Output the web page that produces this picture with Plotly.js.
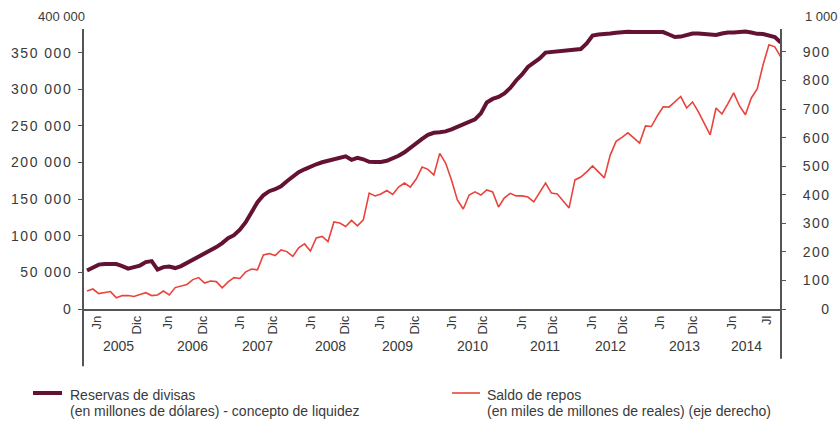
<!DOCTYPE html>
<html>
<head>
<meta charset="utf-8">
<script src="https://cdn.plot.ly/plotly-3.0.1.min.js"></script>
<style>
  body { margin: 0; background: #fff; }
  #grafica { width: 840px; height: 424px; }
  .ytick text, .y2tick text { letter-spacing: 1.5px; }
</style>
</head>
<body>
<div id="grafica"></div>
<script>
// Reservas de divisas (millones de dólares), mensual desde 2005
const reservas = [
  52500, 55900, 60600, 61300, 61300, 61300, 58600, 55200, 57200, 59300,
  64000, 65400, 53800, 57200, 57900, 55900, 58600, 62700, 66800, 70800,
  74900, 79700, 84500, 89900, 96700, 100800, 108300, 118500, 132200, 145800,
  155300, 160800, 163500, 167600, 174400, 181200, 186700, 190700, 194800, 197600,
  200300, 202300, 203700, 205300, 208400, 203700, 206400, 204400, 201000, 200700,
  200700, 202300, 205000, 209100, 213900, 220000, 227500, 232300, 237700, 240500,
  241200, 242500, 245200, 248600, 251400, 254800, 258900, 267000, 282000, 286800,
  289500, 294300, 301800, 312000, 320200, 330400, 336500, 342000, 350100, 350800,
  351500, 352200, 352200, 352900, 354900, 362400, 373300, 374700, 374900, 376000,
  377000, 378300, 378500, 378300, 378100, 377800, 377400, 378300, 378100, 374700,
  371300, 371900, 374000, 376000, 376000, 375300, 374700, 374000, 376000, 377400,
  377400, 378700, 378700, 377400, 375600, 375300, 374000, 371300, 363800
];

// Saldo de repos (miles de millones de reales), mismo periodo
const repos = [
  63, 70, 54, 58, 61, 39, 47, 47, 44, 51,
  57, 47, 49, 63, 49, 75, 81, 86, 103, 110,
  91, 98, 96, 74, 95, 110, 107, 130, 140, 137,
  189, 194, 187, 207, 201, 184, 214, 228, 203, 249,
  254, 236, 305, 301, 289, 310, 291, 312, 406, 396,
  403, 415, 401, 427, 441, 427, 455, 497, 489, 469,
  545, 511, 452, 382, 350, 399, 410, 399, 417, 410,
  357, 389, 405, 396, 396, 392, 375, 410, 441, 406,
  403, 378, 354, 452, 462, 480, 501, 480, 459, 539,
  587, 601, 617, 599, 581, 641, 639, 676, 708, 707,
  727, 744, 704, 725, 690, 648, 610, 704, 683, 718,
  757, 711, 680, 739, 771, 855, 925, 918, 883
];

// Etiquetas del eje horizontal
const etiquetasMes = ["Jn", "Dic", "Jn", "Dic", "Jn", "Dic", "Jn", "Dic", "Jn", "Dic",
                      "Jn", "Dic", "Jn", "Dic", "Jn", "Dic", "Jn", "Dic", "Jn", "Jl"];
const posMes = [1.7, 8.5, 13.8, 19.7, 26, 31.6, 38.1, 43.9, 49.8, 55.8,
                62.1, 67.3, 73.9, 79.3, 85.9, 91.2, 97.4, 103.1, 109.7, 115.6];
const anios = ["2005", "2006", "2007", "2008", "2009", "2010", "2011", "2012", "2013", "2014"];
const posAnio = [5.4, 17.9, 29.0, 41.5, 52.8, 65.5, 77.9, 89.1, 101.7, 112.2];

// Ticks de los ejes verticales
const ticksIzq = [0, 50000, 100000, 150000, 200000, 250000, 300000, 350000];
const ticksDer = [0, 100, 200, 300, 400, 500, 600, 700, 800, 900];

// Leyenda
const leyenda = [
    { linea1: "Reservas de divisas", linea2: "(en millones de dólares) - concepto de liquidez" },
    { linea1: "Saldo de repos", linea2: "(en miles de millones de reales) (eje derecho)" }
];

const meses = reservas.map((_, i) => i);
const fuente = "Liberation Sans, Arial, sans-serif";
const gris = "#3a3a3a";
const ejeColor = "#555";
const colorReservas = "#641233";
const colorRepos = "#e8443d";

function miles(v) {
    return v === 0 ? "0" : (v / 1000) + " 000";
}
function rellenar(v) {
    const s = String(v);
    return "\u2007".repeat(3 - s.length) + s;
}

const trazaReservas = {
    x: meses,
    y: reservas,
    mode: "lines",
    name: leyenda[0].linea1,
    line: { color: colorReservas, width: 4 },
    yaxis: "y"
};

const trazaRepos = {
    x: meses,
    y: repos,
    mode: "lines",
    name: leyenda[1].linea1,
    line: { color: colorRepos, width: 1.6 },
    yaxis: "y2"
};

const anotaciones = anios.map((a, k) => ({
    x: posAnio[k], xref: "x",
    y: -0.16, yref: "paper",
    text: a, showarrow: false,
    font: { family: fuente, size: 14, color: gris }
}));
anotaciones.push({
    x: 0, xref: "paper", xanchor: "right", xshift: 4,
    y: 1, yref: "paper", yanchor: "middle",
    text: "400 000", showarrow: false,
    font: { family: fuente, size: 13, color: gris }
});
anotaciones.push({
    x: 1, xref: "paper", xanchor: "left", xshift: 22,
    y: 1, yref: "paper", yanchor: "middle",
    text: "1 000", showarrow: false,
    font: { family: fuente, size: 13, color: gris }
});

// leyenda dibujada a mano (muestra de linea + dos renglones)
const leyX = [-0.0215, 0.5759];
leyenda.forEach((l, k) => {
    anotaciones.push({
        x: leyX[k], xref: "paper", xanchor: "left",
        y: -0.2935, yref: "paper", yanchor: "middle",
        text: l.linea1, showarrow: false, align: "left",
        font: { family: fuente, size: 14, color: gris }
    });
    anotaciones.push({
        x: leyX[k], xref: "paper", xanchor: "left",
        y: -0.3481, yref: "paper", yanchor: "middle",
        text: l.linea2, showarrow: false, align: "left",
        font: { family: fuente, size: 14, color: gris }
    });
});

const layout = {
    width: 840,
    height: 424,
    margin: { l: 83, r: 59, t: 16, b: 115 },
    paper_bgcolor: "white",
    plot_bgcolor: "white",
    showlegend: false,
    xaxis: {
        range: [-0.68, 118.05],
        showgrid: false,
        zeroline: false,
        showline: true,
        linecolor: ejeColor,
        linewidth: 1.5,
        tickmode: "array",
        tickvals: posMes,
        ticktext: etiquetasMes,
        tickangle: -90,
        ticks: "",
        tickfont: { family: fuente, size: 13, color: gris }
    },
    yaxis: {
        range: [0, 400000],
        showgrid: false,
        zeroline: false,
        showline: false,
        tickmode: "array",
        tickvals: ticksIzq,
        ticktext: ticksIzq.map(miles),
        ticks: "outside",
        ticklen: 4,
        tickcolor: ejeColor,
        ticklabelstandoff: 3,
        tickfont: { family: fuente, size: 14, color: gris }
    },
    yaxis2: {
        overlaying: "y",
        side: "right",
        range: [0, 1026],
        showgrid: false,
        zeroline: false,
        showline: false,
        tickmode: "array",
        tickvals: ticksDer,
        ticktext: ticksDer.map(rellenar),
        ticks: "outside",
        ticklen: 4,
        tickcolor: ejeColor,
        ticklabelstandoff: 14,
        tickfont: { family: fuente, size: 14, color: gris }
    },
    shapes: [
        { type: "line", xref: "paper", yref: "paper", x0: 0, x1: 0, y0: 0.956, y1: -0.195,
          line: { color: ejeColor, width: 2 } },
        { type: "line", xref: "paper", yref: "paper", x0: 1, x1: 1, y0: 0.956, y1: -0.17,
          line: { color: ejeColor, width: 2 } },
        { type: "line", xref: "paper", yref: "paper", x0: -0.0716, x1: -0.0301, y0: -0.2867, y1: -0.2867,
          line: { color: colorReservas, width: 4 } },
        { type: "line", xref: "paper", yref: "paper", x0: 0.5287, x1: 0.5688, y0: -0.2867, y1: -0.2867,
          line: { color: colorRepos, width: 1.6 } }
    ],
    annotations: anotaciones
};

Plotly.newPlot("grafica", [trazaReservas, trazaRepos], layout, { displayModeBar: false, staticPlot: true });
</script>
</body>
</html>
